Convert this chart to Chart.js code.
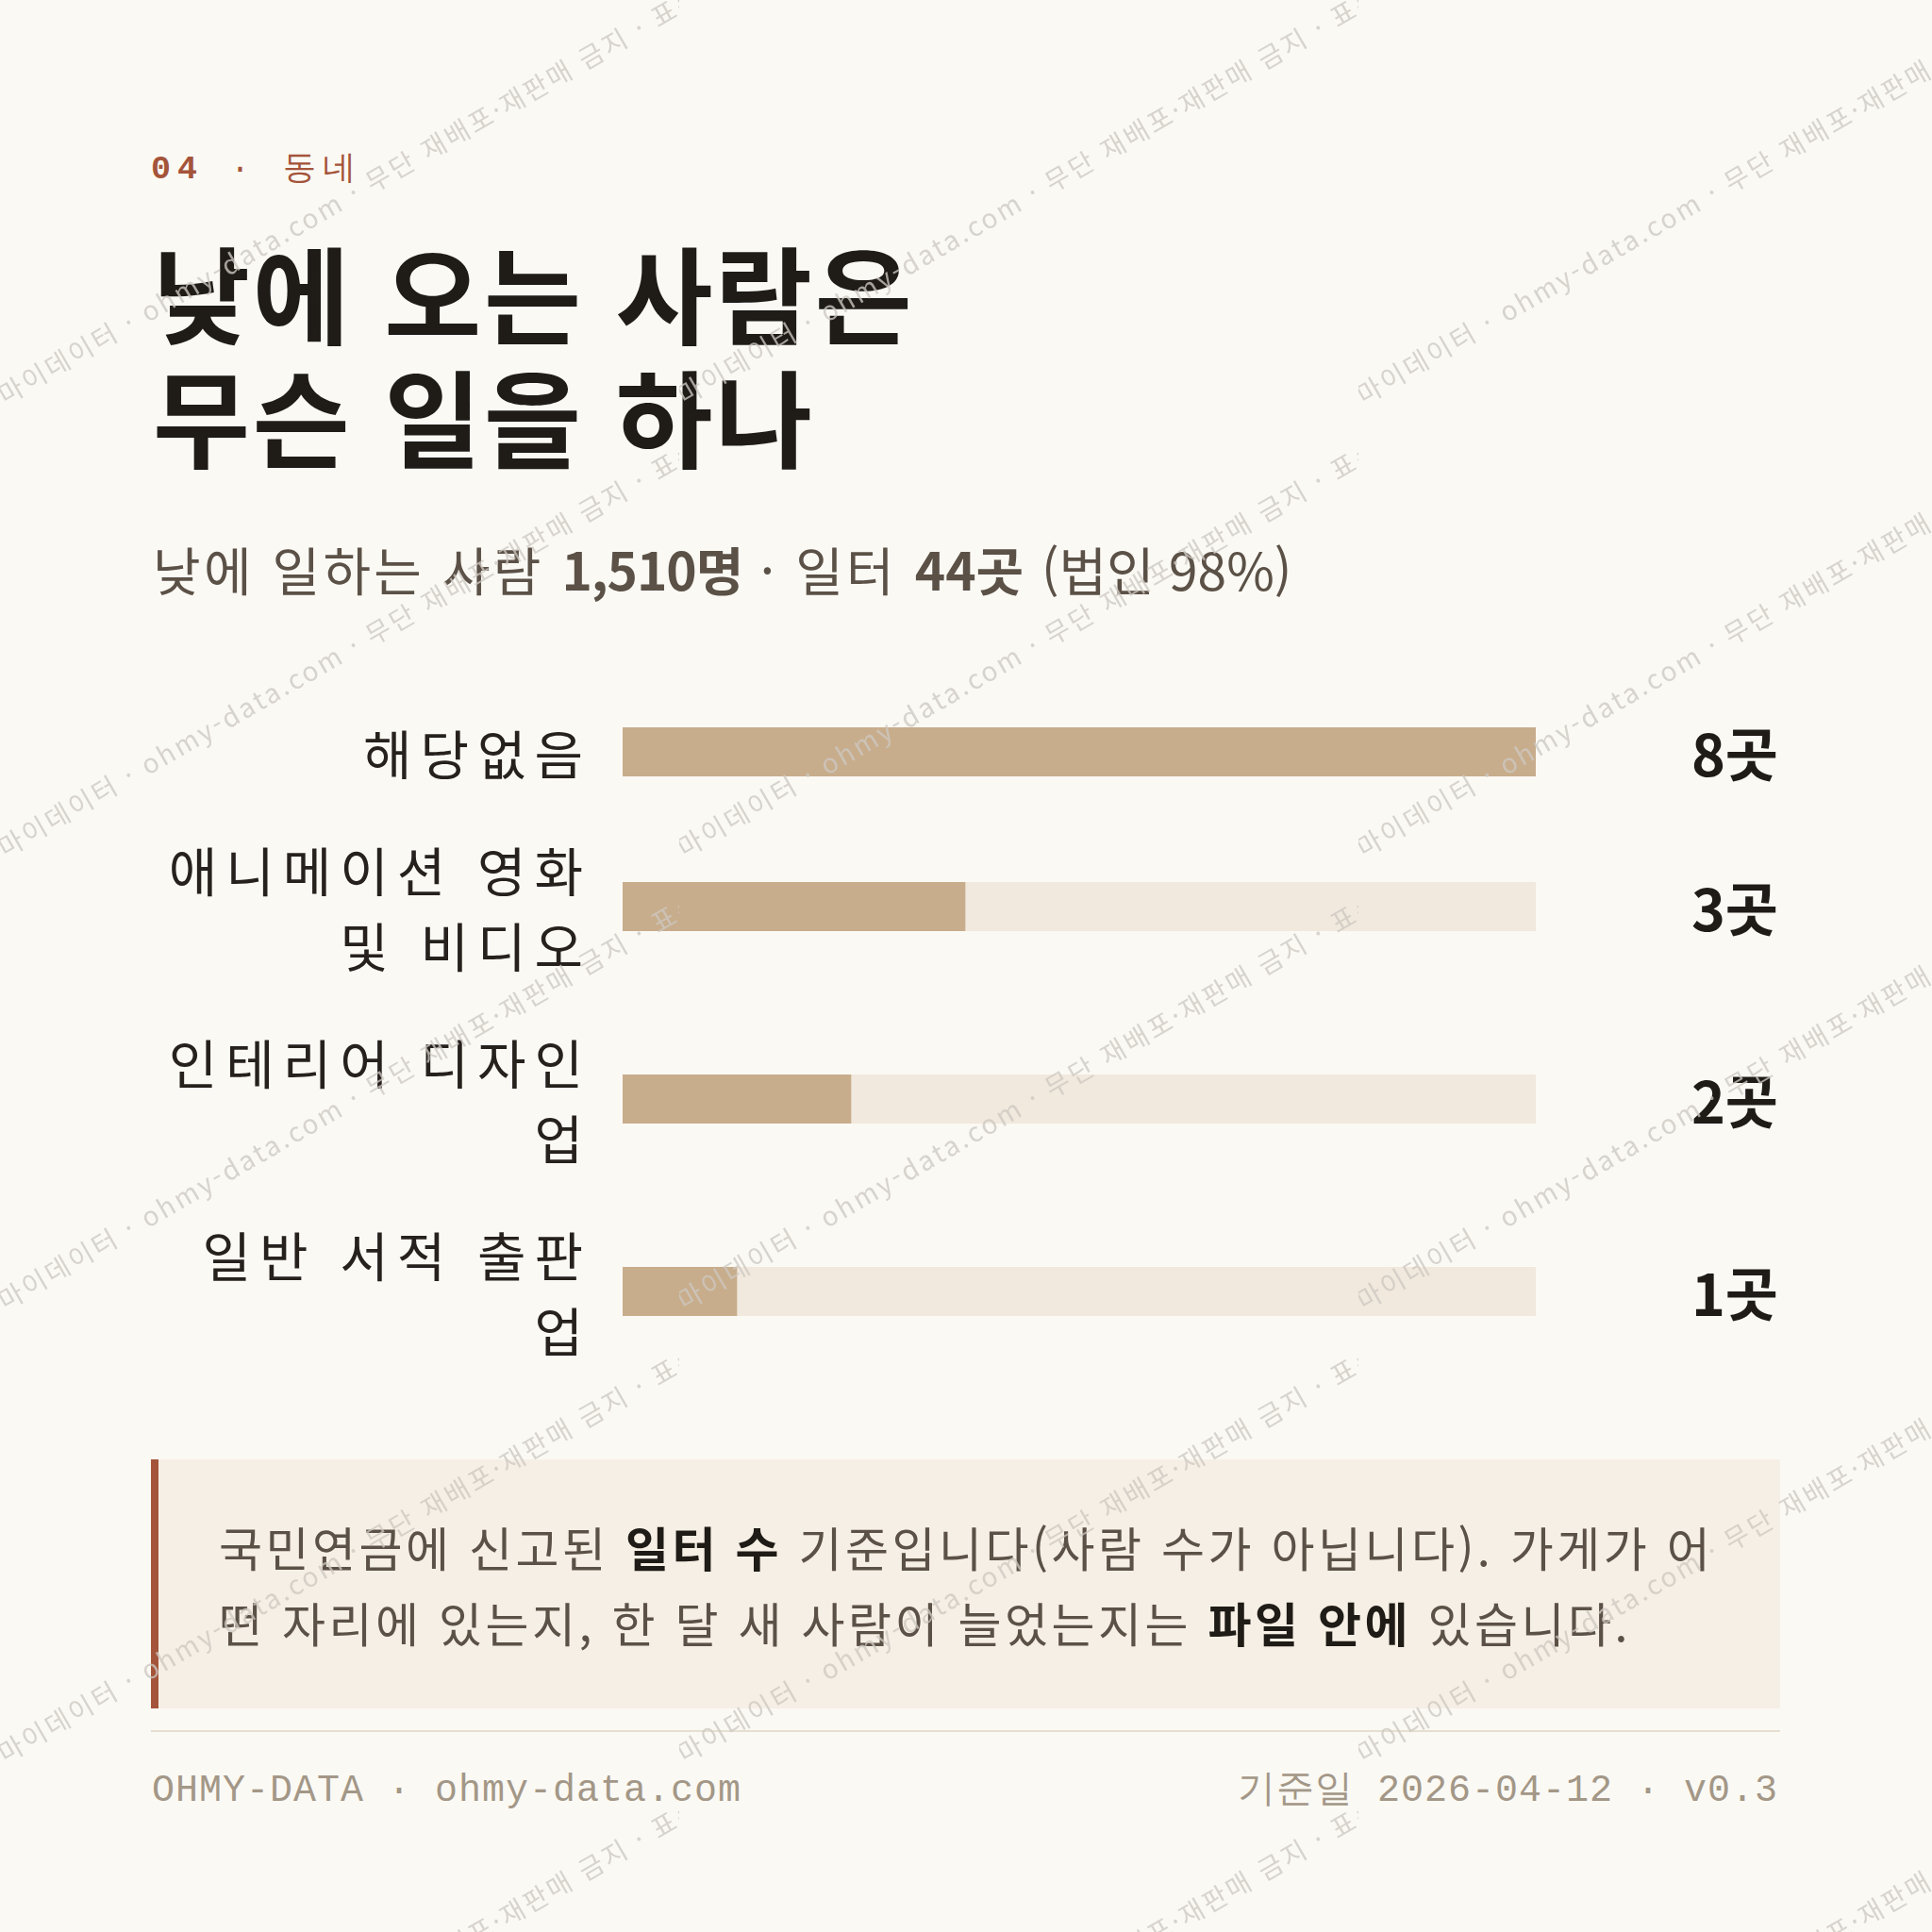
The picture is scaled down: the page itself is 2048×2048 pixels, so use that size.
<!DOCTYPE html>
<html lang="ko">
<head>
<meta charset="utf-8">
<script src="https://cdn.jsdelivr.net/npm/chart.js@4/dist/chart.umd.min.js"></script>
<style>
html,body{margin:0;padding:0;}
body{width:2048px;height:2048px;background:#fbf9f4;position:relative;overflow:hidden;
  font-family:"Noto Sans CJK KR","Noto Sans",sans-serif;}
.abs{position:absolute;}
#kicker{left:160px;top:160px;font-family:"Liberation Mono",monospace;font-size:35px;line-height:40px;
  letter-spacing:0.2em;color:#a4543a;white-space:pre;}
#kicker b{font-weight:700;}
#title{left:162px;top:243px;font-size:112px;line-height:131px;font-weight:700;color:#1f1b16;
  letter-spacing:2.6px;margin:0;white-space:nowrap;}
#subtitle{left:162px;top:567px;font-size:55px;line-height:70px;color:#5b5147;white-space:nowrap;letter-spacing:0.06em;}
#subtitle b{font-weight:700;}
#subtitle .n1{letter-spacing:-0.02em;}
#subtitle .n2{letter-spacing:0;}
#subtitle .p{letter-spacing:0;}
#rows{left:140px;top:757px;display:flex;flex-direction:column;gap:44px;}
.row{display:flex;align-items:center;}
.lab{width:487px;text-align:right;font-size:56px;line-height:80px;letter-spacing:9px;color:#26211c;white-space:nowrap;}
.bar{width:968px;height:52px;margin-left:33px;position:relative;flex:none;}
.bar canvas{display:block;}
.val{width:257px;text-align:right;font-size:61px;line-height:80px;font-weight:700;color:#1f1b16;}
#note{left:160px;top:1547px;width:1727px;height:264px;box-sizing:border-box;background:#f6efe5;
  border-left:8px solid #a4543a;padding:52px 40px 52px 64px;font-size:50px;line-height:80px;letter-spacing:3.5px;
  color:#5b5147;white-space:nowrap;}
#note b{font-weight:700;color:#1f1b16;}
#rule{left:160px;top:1834px;width:1727px;height:2px;background:#e6dfd2;}
.foot{top:1877px;font-family:"Liberation Mono",monospace;font-size:40px;line-height:44px;letter-spacing:1px;
  color:#a39787;white-space:pre;}
#footL{left:161px;}
#footR{right:163px;}
#wm{left:0;top:0;width:2048px;height:2048px;pointer-events:none;z-index:10;}
.tile{position:absolute;width:720px;height:480px;overflow:hidden;}
.tile span{position:absolute;left:-12px;top:414px;height:28px;font-size:28px;line-height:28px;letter-spacing:0.1em;
  white-space:nowrap;color:rgba(205,200,193,0.78);transform-origin:0 100%;transform:rotate(-30deg);}
</style>
</head>
<body>
<div id="kicker" class="abs"><b>04</b> · 동네</div>
<h1 id="title" class="abs">낮에 오는 사람은<br>무슨 일을 하나</h1>
<div id="subtitle" class="abs">낮에 일하는 사람 <b class="n1">1,510명</b> · 일터 <b class="n2">44곳</b> <span class="p">(법인 98%)</span></div>
<div id="rows" class="abs"></div>
<div id="note" class="abs">국민연금에 신고된 <b>일터 수</b> 기준입니다(사람 수가 아닙니다). 가게가 어<br>떤 자리에 있는지, 한 달 새 사람이 늘었는지는 <b>파일 안에</b> 있습니다.</div>
<div id="rule" class="abs"></div>
<div id="footL" class="abs foot">OHMY-DATA · ohmy-data.com</div>
<div id="footR" class="abs foot">기준일 2026-04-12 · v0.3</div>
<div id="wm" class="abs"></div>
<script>
// categories as multi-line labels (Chart.js style: one array of lines per category)
const categories = [
  ["해당없음"],
  ["애니메이션 영화", "및 비디오"],
  ["인테리어 디자인", "업"],
  ["일반 서적 출판", "업"]
];
const values = [8, 3, 2, 1];
const unit = "곳";
const fillColor = "#c8ad8c";
const trackColor = "#f1e9dd";
const maxValue = Math.max(...values);

const rows = document.getElementById("rows");
categories.forEach((lines, i) => {
  const row = document.createElement("div");
  row.className = "row";
  const lab = document.createElement("div");
  lab.className = "lab";
  lines.forEach((ln, k) => {
    if (k) lab.appendChild(document.createElement("br"));
    lab.appendChild(document.createTextNode(ln));
  });
  const bar = document.createElement("div");
  bar.className = "bar";
  const cv = document.createElement("canvas");
  cv.width = 968; cv.height = 52;
  cv.style.width = "968px"; cv.style.height = "52px";
  bar.appendChild(cv);
  const val = document.createElement("div");
  val.className = "val";
  val.textContent = values[i] + unit;
  row.appendChild(lab); row.appendChild(bar); row.appendChild(val);
  rows.appendChild(row);

  new Chart(cv, {
    type: "bar",
    data: {
      labels: [lines.join(" ")],
      datasets: [
        {data: [values[i]], backgroundColor: fillColor, borderWidth: 0, order: 0,
         grouped: false, barPercentage: 1, categoryPercentage: 1},
        {data: [maxValue], backgroundColor: trackColor, borderWidth: 0, order: 1,
         grouped: false, barPercentage: 1, categoryPercentage: 1}
      ]
    },
    options: {
      indexAxis: "y",
      responsive: false,
      animation: false,
      events: [],
      layout: {padding: 0},
      plugins: {legend: {display: false}, tooltip: {enabled: false}},
      scales: {
        x: {display: false, min: 0, max: maxValue},
        y: {display: false}
      }
    }
  });
});

// watermark tiles
const wmText = "· 마이데이터 · ohmy-data.com · 무단 재배포·재판매 금지 · 표본 데이터";
const wm = document.getElementById("wm");
for (let r = 0; r < 5; r++) {
  for (let c = 0; c < 3; c++) {
    const t = document.createElement("div");
    t.className = "tile";
    t.style.left = (c * 720) + "px";
    t.style.top = (r * 480) + "px";
    const s = document.createElement("span");
    s.textContent = wmText;
    t.appendChild(s);
    wm.appendChild(t);
  }
}
</script>
</body>
</html>
